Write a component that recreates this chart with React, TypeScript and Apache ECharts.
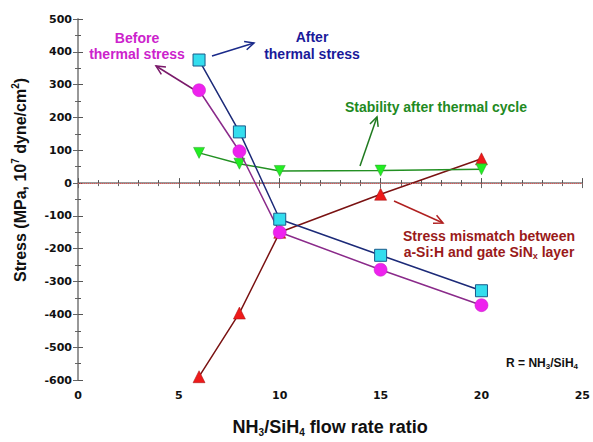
import React, { useEffect, useRef } from "react";
import * as echarts from "echarts";

const ratios = [6, 8, 10, 15, 20];
const afterStress = [375, 156, -110, -220, -328];
const beforeStress = [283, 97, -150, -264, -372];
const mismatchStress = [-590, -396, -150, -34, 74];
const stabilityStress = [92, 59, 37, 38, 42];
const xTicks = [0, 5, 10, 15, 20, 25];
const yTicks = [-600, -500, -400, -300, -200, -100, 0, 100, 200, 300, 400, 500];

const FONT = "'Liberation Sans', Arial, sans-serif";
const TICKFONT = "'DejaVu Sans', Verdana, sans-serif";

function arrow(x1: number, y1: number, x2: number, y2: number, color: string) {
  const ang = Math.atan2(y2 - y1, x2 - x1);
  const L = 10;
  const spread = 0.45;
  const p1 = [x2 - L * Math.cos(ang - spread), y2 - L * Math.sin(ang - spread)];
  const p2 = [x2 - L * Math.cos(ang + spread), y2 - L * Math.sin(ang + spread)];
  return {
    type: "group",
    children: [
      { type: "line", shape: { x1, y1, x2, y2 }, style: { stroke: color, lineWidth: 1.5 } },
      { type: "polyline", shape: { points: [p1, [x2, y2], p2] }, style: { stroke: color, lineWidth: 1.5, fill: null } },
    ],
  };
}

function label(x: number, y: number, text: string, color: string, align = "center") {
  return {
    type: "text",
    x,
    y,
    style: {
      text,
      fill: color,
      font: `bold 14px ${FONT}`,
      align,
      verticalAlign: "middle",
    },
  };
}

export default function App() {
  const ref = useRef<HTMLDivElement>(null);
  useEffect(() => {
    const chart = echarts.init(ref.current!, null, { renderer: "svg" });
    const axisLine = { show: true, lineStyle: { color: "#777", width: 1.5 } };
    const tickLabel = { color: "#111", fontWeight: "bold", fontSize: 11, fontFamily: TICKFONT };
    chart.setOption({
      animation: false,
      backgroundColor: "#fff",
      grid: { left: 78, top: 19, right: 5, bottom: 56, containLabel: false },
      xAxis: [
        {
          type: "value",
          min: 0,
          max: 25,
          interval: 5,
          position: "bottom",
          axisLine,
          axisTick: { show: true, inside: true, length: 5, lineStyle: { color: "#555" } },
          minorTick: { show: true, splitNumber: 5, length: 3, lineStyle: { color: "#555" } },
          splitLine: { show: false },
          axisLabel: {
            ...tickLabel,
            margin: 10,
            formatter: (v: number) => (xTicks.includes(v) ? String(v) : ""),
          },
          name: "{t|NH}{s|3}{t|/SiH}{s|4}{t| flow rate ratio}",
          nameLocation: "middle",
          nameGap: 37,
          nameTextStyle: {
            rich: {
              t: { fontSize: 18, fontWeight: "bold", fontFamily: FONT, color: "#111" },
              s: { fontSize: 10, fontWeight: "bold", fontFamily: FONT, color: "#111", padding: [10, 0, 0, 0] },
            },
          },
        },
        {
          type: "value",
          min: 0,
          max: 25,
          interval: 5,
          position: "top",
          axisLine: { show: true, lineStyle: { color: "#999", width: 1.5 } },
          axisTick: { show: true, inside: true, length: 5, lineStyle: { color: "#666" } },
          minorTick: { show: true, splitNumber: 5, length: 3, lineStyle: { color: "#666" } },
          splitLine: { show: false },
          axisLabel: { show: false },
        },
      ],
      yAxis: [
        {
          type: "value",
          min: -600,
          max: 500,
          interval: 100,
          position: "left",
          axisLine,
          axisTick: { show: true, inside: true, length: 5, lineStyle: { color: "#555" } },
          minorTick: { show: true, splitNumber: 2, length: 3, lineStyle: { color: "#555" } },
          splitLine: { show: false },
          axisLabel: {
            ...tickLabel,
            margin: 6,
            formatter: (v: number) => (yTicks.includes(v) ? String(v) : ""),
          },
        },
        {
          type: "value",
          min: -600,
          max: 500,
          interval: 100,
          position: "right",
          axisLine: { show: true, lineStyle: { color: "#999", width: 1.5 } },
          axisTick: { show: true, inside: true, length: 5, lineStyle: { color: "#666" } },
          minorTick: { show: true, splitNumber: 2, length: 3, lineStyle: { color: "#666" } },
          splitLine: { show: false },
          axisLabel: { show: false },
        },
      ],
      series: [
        {
          name: "Stress mismatch",
          type: "line",
          data: ratios.map((x, i) => [x, mismatchStress[i]]),
          symbol: "triangle",
          symbolSize: 12,
          lineStyle: { color: "#7a1212", width: 1.5 },
          itemStyle: { color: "#ee1a1a", borderColor: "#a01010", borderWidth: 0.5 },
          z: 2,
          markLine: {
            silent: true,
            symbol: "none",
            label: { show: false },
            lineStyle: { color: "#e05050", type: "dotted", width: 1 },
            data: [{ yAxis: 0 }],
          },
        },
        {
          name: "Stability",
          type: "line",
          data: ratios.map((x, i) => [x, stabilityStress[i]]),
          symbol: "triangle",
          symbolRotate: 180,
          symbolSize: 11,
          lineStyle: { color: "#239023", width: 1.5 },
          itemStyle: { color: "#22ee22", borderColor: "#2a9a2a", borderWidth: 0.5 },
          z: 3,
        },
        {
          name: "Before thermal stress",
          type: "line",
          data: ratios.map((x, i) => [x, beforeStress[i]]),
          symbol: "circle",
          symbolSize: 13,
          lineStyle: { color: "#8a2a8a", width: 1.5 },
          itemStyle: { color: "#ee22ee", borderColor: "#c020c0", borderWidth: 0.5 },
          z: 4,
        },
        {
          name: "After thermal stress",
          type: "line",
          data: ratios.map((x, i) => [x, afterStress[i]]),
          symbol: "rect",
          symbolSize: 12,
          lineStyle: { color: "#1c2a78", width: 1.5 },
          itemStyle: { color: "#33ddee", borderColor: "#1a5a8a", borderWidth: 1 },
          z: 5,
        },
      ],
      graphic: [
        {
          type: "text",
          x: 20,
          y: 180,
          rotation: Math.PI / 2,
          style: {
            text: "{t|Stress (MPa, 10}{p|7}{t| dyne/cm}{p|2}{t|)}",
            align: "center",
            verticalAlign: "middle",
            rich: {
              t: { fontSize: 16, fontWeight: "bold", fontFamily: FONT, fill: "#111" },
              p: { fontSize: 10, fontWeight: "bold", fontFamily: FONT, fill: "#111", padding: [0, 0, 9, 0] },
            },
          },
        },
        label(137, 38, "Before", "#cc22cc"),
        label(137, 54, "thermal stress", "#cc22cc"),
        arrow(193, 89, 156, 66, "#7a1a6a"),
        label(312, 37, "After", "#1a1a9a"),
        label(312, 54, "thermal stress", "#1a1a9a"),
        arrow(212, 56, 254, 43, "#1a2a8a"),
        label(436, 107, "Stability after thermal cycle", "#1f8a1f"),
        arrow(360, 166, 377, 117, "#1f7a1f"),
        arrow(394, 201, 443, 223, "#b02020"),
        label(489, 236, "Stress mismatch between", "#9a1a1a"),
        {
          type: "text",
          x: 489,
          y: 252,
          style: {
            text: "{t|a-Si:H and gate SiN}{s|x}{t| layer}",
            align: "center",
            verticalAlign: "middle",
            rich: {
              t: { fontSize: 14, fontWeight: "bold", fontFamily: FONT, fill: "#9a1a1a" },
              s: { fontSize: 9, fontWeight: "bold", fontFamily: FONT, fill: "#9a1a1a", padding: [8, 0, 0, 0] },
            },
          },
        },
        {
          type: "text",
          x: 578,
          y: 363,
          style: {
            text: "{t|R = NH}{s|3}{t|/SiH}{s|4}",
            align: "right",
            verticalAlign: "middle",
            rich: {
              t: { fontSize: 12, fontWeight: "bold", fontFamily: FONT, fill: "#111" },
              s: { fontSize: 8, fontWeight: "bold", fontFamily: FONT, fill: "#111", padding: [7, 0, 0, 0] },
            },
          },
        },
      ],
    });
    return () => chart.dispose();
  }, []);
  return <div ref={ref} style={{ position: "fixed", left: 0, top: 0, width: 593, height: 442 }} />;
}
